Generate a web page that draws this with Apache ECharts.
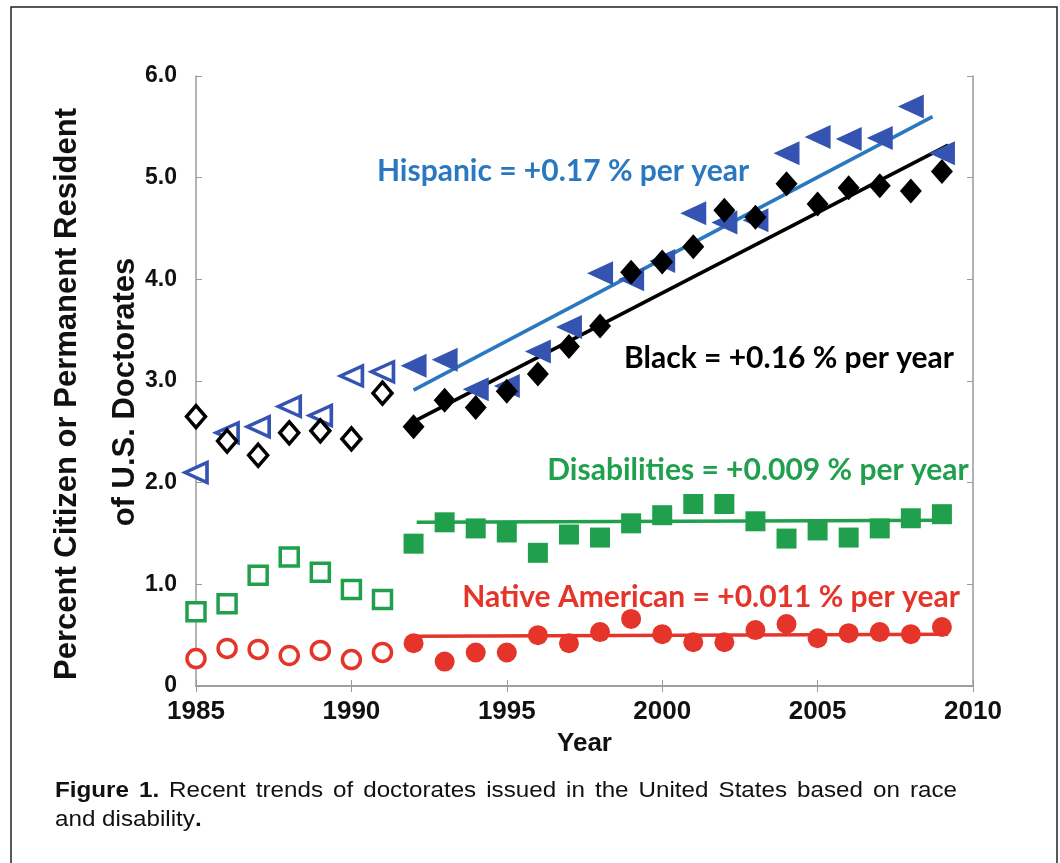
<!DOCTYPE html>
<html>
<head>
<meta charset="utf-8">
<style>
    html, body {
        margin: 0;
        padding: 0;
        background: white;
    }
    .wrap {
        position: relative;
        width: 1060px;
        height: 863px;
    }
    #myChart {
        width: 1060px;
        height: 863px;
    }
    .caption {
        position: absolute;
        left: 55px;
        top: 775px;
        width: 820px;
        font-family: "Liberation Sans", Arial, sans-serif;
        font-size: 22px;
        line-height: 29px;
        color: #111;
        white-space: nowrap;
        transform: scaleX(1.1);
        transform-origin: left top;
    }
    .caption .full {
        text-align: justify;
        text-align-last: justify;
    }
</style>
<script src="https://cdn.jsdelivr.net/npm/echarts@6/dist/echarts.min.js"></script>
</head>
<body>
<div class="wrap">
    <div id="myChart"></div>
    <div class="caption">
        <div class="full"><b>Figure 1.</b> Recent trends of doctorates issued in the United States based on race</div>
        <div>and disability<b>.</b></div>
    </div>
</div>
<script>
    // years 1985-2009, open markers before 1992, filled from 1992 on
    const years = [1985, 1986, 1987, 1988, 1989, 1990, 1991, 1992, 1993, 1994, 1995, 1996, 1997,
        1998, 1999, 2000, 2001, 2002, 2003, 2004, 2005, 2006, 2007, 2008, 2009]
    const splitYear = 1992

    const hispanic = [2.10, 2.49, 2.55, 2.75, 2.66, 3.05, 3.09, 3.15, 3.21, 2.92, 2.95, 3.29, 3.53,
        4.06, 4.00, 4.18, 4.65, 4.56, 4.58, 5.24, 5.40, 5.38, 5.39, 5.70, 5.24]
    const black = [2.65, 2.41, 2.27, 2.49, 2.51, 2.43, 2.88, 2.55, 2.81, 2.74, 2.90, 3.07, 3.34,
        3.54, 4.07, 4.17, 4.32, 4.68, 4.61, 4.94, 4.74, 4.90, 4.92, 4.87, 5.06]
    const disabilities = [0.73, 0.81, 1.09, 1.27, 1.12, 0.95, 0.85, 1.40, 1.61, 1.55, 1.51, 1.31, 1.49,
        1.46, 1.60, 1.68, 1.79, 1.79, 1.62, 1.45, 1.53, 1.46, 1.55, 1.65, 1.69]
    const nativeAm = [0.27, 0.37, 0.36, 0.30, 0.35, 0.26, 0.33, 0.42, 0.24, 0.33, 0.33, 0.50, 0.42,
        0.53, 0.66, 0.51, 0.43, 0.43, 0.55, 0.61, 0.47, 0.52, 0.53, 0.51, 0.58]

    // trend line end points [year, value]
    const hispanicFit = [[1992, 2.91], [2008.7, 5.60]]
    const blackFit = [[1992, 2.60], [2009.2, 5.32]]
    const disabilitiesFit = [[1992.1, 1.61], [2009.2, 1.63]]
    const nativeFit = [[1992.1, 0.49], [2009.2, 0.51]]

    const xTicks = [1985, 1990, 1995, 2000, 2005, 2010]
    const yTicks = [0, 1, 2, 3, 4, 5, 6]

    function pick(values, open) {
        let out = []
        for (let i = 0; i < years.length; i++) {
            if ((years[i] < splitYear) === open) {
                out.push([years[i], values[i]])
            }
        }
        return out
    }

    const axisGray = '#9a9a9a'
    const blueMark = '#3553b0'
    const blueLine = '#2a78c0'
    const green = '#20a04c'
    const red = '#e5352b'

    function scatter(name, data, symbol, size, color, open, rotate) {
        return {
            name: name,
            type: 'scatter',
            data: data,
            symbol: symbol,
            symbolSize: size,
            symbolRotate: rotate || 0,
            itemStyle: open
                ? {color: '#fff', borderColor: color, borderWidth: 3.5, opacity: 1}
                : {color: color, borderWidth: 0, opacity: 1},
            emphasis: {disabled: true},
            z: 3
        }
    }

    function fit(name, data, color) {
        return {
            name: name,
            type: 'line',
            data: data,
            symbol: 'none',
            lineStyle: {color: color, width: 3.5},
            z: 2
        }
    }

    function note(text, x, y, color) {
        return {
            type: 'text',
            x: x,
            y: y,
            style: {
                text: text,
                fill: color,
                font: 'bold 30px Lato, "Open Sans", sans-serif',
                textAlign: 'center',
                textVerticalAlign: 'middle'
            },
            z: 10
        }
    }

    let MyChart = echarts.init(document.getElementById('myChart'), null, {renderer: 'canvas'})

    let option = {
        backgroundColor: '#fff',
        animation: false,
        grid: {left: 196, right: 87, top: 76, bottom: 177},
        xAxis: [{
            type: 'value',
            min: xTicks[0],
            max: xTicks[xTicks.length - 1],
            interval: 5,
            name: 'Year',
            nameLocation: 'middle',
            nameGap: 45,
            nameTextStyle: {fontFamily: '"Liberation Sans", Arial', fontWeight: 'bold', fontSize: 26, color: '#111'},
            axisLine: {show: true, lineStyle: {color: axisGray, width: 1.5}},
            axisTick: {show: true, inside: true, length: 6, lineStyle: {color: axisGray}},
            axisLabel: {
                margin: 13,
                fontFamily: '"Liberation Sans", Arial',
                fontWeight: 'bold',
                fontSize: 26,
                color: '#111',
                formatter: function (v) {
                    return String(v)
                }
            },
            splitLine: {show: false}
        }, {
            type: 'value',
            position: 'top',
            min: xTicks[0],
            max: xTicks[xTicks.length - 1],
            interval: 5,
            axisLine: {show: true, lineStyle: {color: axisGray, width: 1.5}},
            axisTick: {show: true, inside: true, length: 6, lineStyle: {color: axisGray}},
            axisLabel: {show: false},
            splitLine: {show: false}
        }],
        yAxis: [{
            type: 'value',
            min: yTicks[0],
            max: yTicks[yTicks.length - 1],
            interval: 1,
            axisLine: {show: true, lineStyle: {color: axisGray, width: 1.5}},
            axisTick: {show: true, inside: true, length: 6, lineStyle: {color: axisGray}},
            axisLabel: {
                margin: 19,
                fontFamily: '"Liberation Sans", Arial',
                fontWeight: 'bold',
                fontSize: 23,
                color: '#111',
                formatter: function (v) {
                    return v === 0 ? '0' : v.toFixed(1)
                }
            },
            splitLine: {show: false}
        }, {
            type: 'value',
            position: 'right',
            min: yTicks[0],
            max: yTicks[yTicks.length - 1],
            interval: 1,
            axisLine: {show: true, lineStyle: {color: axisGray, width: 1.5}},
            axisTick: {show: true, inside: true, length: 6, lineStyle: {color: axisGray}},
            axisLabel: {show: false},
            splitLine: {show: false}
        }],
        graphic: [
            {
                // figure frame, open at the bottom
                type: 'rect',
                shape: {x: 11, y: 7, width: 1046, height: 920},
                style: {fill: 'none', stroke: '#222', lineWidth: 1.5},
                silent: true
            },
            {
                type: 'text',
                x: 67,
                y: 394,
                rotation: Math.PI / 2,
                style: {
                    text: 'Percent Citizen or Permanent Resident',
                    fill: '#111',
                    font: 'bold 31px "Liberation Sans", Arial',
                    textAlign: 'center',
                    textVerticalAlign: 'middle'
                }
            },
            {
                type: 'text',
                x: 125,
                y: 392,
                rotation: Math.PI / 2,
                style: {
                    text: 'of U.S. Doctorates',
                    fill: '#111',
                    font: 'bold 31px "Liberation Sans", Arial',
                    textAlign: 'center',
                    textVerticalAlign: 'middle'
                }
            },
            note('Hispanic = +0.17 % per year', 563, 171, blueLine),
            note('Black = +0.16 % per year', 789, 358, '#000'),
            note('Disabilities = +0.009 % per year', 758, 470, green),
            note('Native American = +0.011 % per year', 711, 597, red)
        ],
        series: [
            fit('Hispanic fit', hispanicFit, blueLine),
            fit('Black fit', blackFit, '#000'),
            fit('Disabilities fit', disabilitiesFit, green),
            fit('Native American fit', nativeFit, red),
            scatter('Hispanic', pick(hispanic, true), 'triangle', [20, 22], blueMark, true, 90),
            scatter('Hispanic', pick(hispanic, false), 'triangle', [24, 26], blueMark, false, 90),
            scatter('Black', pick(black, true), 'diamond', [19, 22], '#000', true),
            scatter('Black', pick(black, false), 'diamond', [22, 25], '#000', false),
            scatter('Disabilities', pick(disabilities, true), 'rect', 18, green, true),
            scatter('Disabilities', pick(disabilities, false), 'rect', 20, green, false),
            scatter('Native American', pick(nativeAm, true), 'circle', 18, red, true),
            scatter('Native American', pick(nativeAm, false), 'circle', 20, red, false)
        ]
    }

    MyChart.setOption(option)
</script>
</body>
</html>
